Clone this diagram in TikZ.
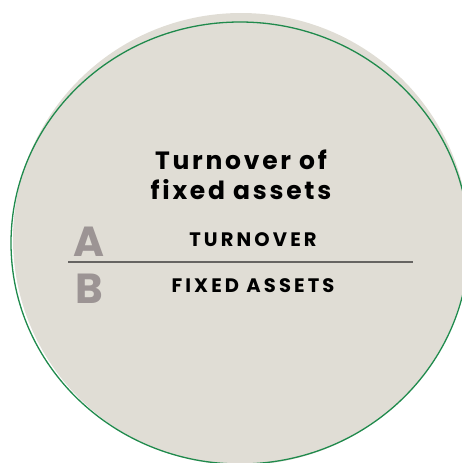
\documentclass[tikz,border=0pt]{standalone}
\usepackage{fontspec}
\setmainfont{Poppins}
\newfontfamily\labfont[LetterSpace=16]{Poppins}
\newfontfamily\ttlfont[LetterSpace=11]{Poppins}
\definecolor{disc}{HTML}{E0DDD5}
\definecolor{ring}{HTML}{1F8A4C}
\definecolor{letter}{HTML}{9C9494}
\definecolor{rule}{HTML}{666462}
\tikzset{
  titletext/.style={font=\ttlfont\fontsize{25}{30}\selectfont\bfseries, align=center, inner sep=0pt},
  labeltext/.style={font=\labfont\fontsize{19.5}{21}\selectfont\bfseries, inner sep=0pt, anchor=base},
  bigletter/.style={font=\fontsize{42}{44}\selectfont\bfseries, text=letter, inner sep=0pt, anchor=base},
}
\begin{document}
\begin{tikzpicture}[x=1pt,y=-1pt]
\useasboundingbox (0,0) rectangle (462,463);
\fill[disc] (241,239) ellipse [x radius=228, y radius=226];
\draw[ring, line width=1.3pt] (240,243) ellipse [x radius=229, y radius=221];
\node[titletext] (title) at (241,175) {Turnover of\\fixed assets};
\node[bigletter] (a) at (88.5,256) {A};
\node[bigletter] (b) at (89,303) {B};
\node[labeltext] (num) at (253,246.5) {TURNOVER};
\node[labeltext] (den) at (253,292.5) {FIXED ASSETS};
\coordinate (l1) at (68,262);
\coordinate (l2) at (413,262);
\draw[rule, line width=1.1pt] (l1) -- (l2);
\end{tikzpicture}
\end{document}
